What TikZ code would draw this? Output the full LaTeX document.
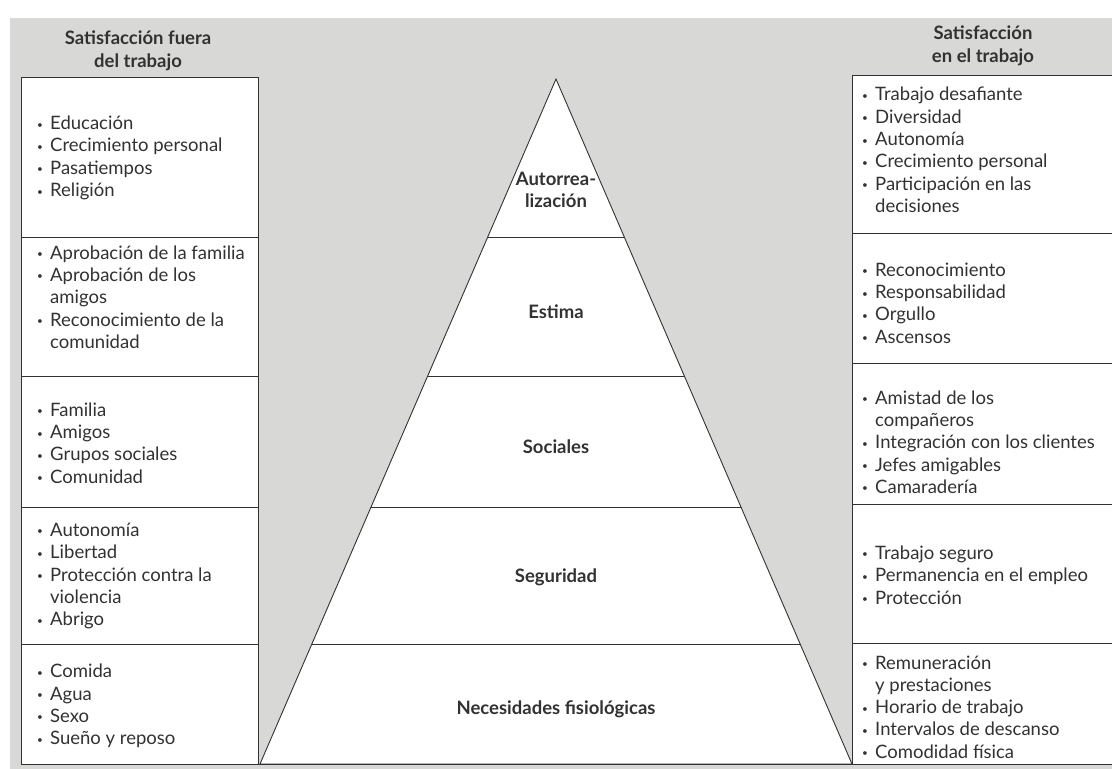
\documentclass[tikz,border=0pt]{standalone}
\usepackage{fontspec}
\setmainfont{Lato}
\definecolor{paper}{RGB}{216,216,214}
\definecolor{ink}{RGB}{50,50,50}
\newcommand{\itm}{\makebox[13pt][l]{\raisebox{1.5pt}{\fontsize{10}{10}\selectfont\textbullet}}}
\newcommand{\cont}{\makebox[13pt]{}}
\tikzset{
  cell/.style={draw=ink, fill=white, line width=0.9pt},
  lista/.style={anchor=west, align=left, font=\fontsize{18.5}{22.3}\selectfont, text=ink, inner sep=0pt},
  nivel/.style={align=center, font=\fontsize{18.5}{22.5}\selectfont\bfseries, text=ink, inner sep=0pt},
  titulo/.style={align=center, font=\fontsize{18.5}{22.5}\selectfont\bfseries, text=ink, inner sep=0pt}
}
\begin{document}
\begin{tikzpicture}[x=1pt, y=-1pt]
  \useasboundingbox (0,0) rectangle (1112,769);
  \fill[paper] (10,18) rectangle (1112,769);

  % columna izquierda
  \draw[cell] (21,77) rectangle (258,764);
  \foreach \y in {237,376,507,644}
    \draw[ink, line width=0.9pt] (21,\y) -- (258,\y);

  % columna derecha
  \draw[cell] (1113,75) -- (852,75) -- (852,764) -- (1113,764);
  \foreach \y in {233,363,504,643}
    \draw[ink, line width=0.9pt] (852,\y) -- (1113,\y);

  % piramide
  \coordinate (apex) at (556,79);
  \coordinate (bl) at (260,764);
  \coordinate (br) at (852,764);
  \draw[cell] (apex) -- (bl) -- (br) -- cycle;
  \begin{scope}
    \clip (apex) -- (bl) -- (br) -- cycle;
    \foreach \y in {237,376,507,644}
      \draw[ink, line width=0.9pt] (200,\y) -- (900,\y);
  \end{scope}
  \draw[ink, line width=0.9pt] (21,764) -- (1113,764);

  \node[titulo] (tfuera) at (138,51) {Satisfacción fuera\\del trabajo};
  \node[titulo] (ttrabajo) at (983,46) {Satisfacción\\en el trabajo};

  \node[nivel] (autorrea) at (556,190) {Autorrea-\\lización};
  \node[nivel] (estima) at (556,312) {Estima};
  \node[nivel] (sociales) at (556,447) {Sociales};
  \node[nivel] (seguridad) at (556,577) {Seguridad};
  \node[nivel] (fisio) at (556,709) {Necesidades fisiológicas};

  \node[lista] (f1) at (37,158) {\itm Educación\\\itm Crecimiento personal\\\itm Pasatiempos\\\itm Religión};
  \node[lista] (f2) at (37,297) {\itm Aprobación de la familia\\\itm Aprobación de los\\\cont amigos\\\itm Reconocimiento de la\\\cont comunidad};
  \node[lista] (f3) at (37,443) {\itm Familia\\\itm Amigos\\\itm Grupos sociales\\\itm Comunidad};
  \node[lista] (f4) at (37,576) {\itm Autonomía\\\itm Libertad\\\itm Protección contra la\\\cont violencia\\\itm Abrigo};
  \node[lista] (f5) at (37,706) {\itm Comida\\\itm Agua\\\itm Sexo\\\itm Sueño y reposo};

  \node[lista] (t1) at (862,150) {\itm Trabajo desafiante\\\itm Diversidad\\\itm Autonomía\\\itm Crecimiento personal\\\itm Participación en las\\\cont decisiones};
  \node[lista] (t2) at (862,303) {\itm Reconocimiento\\\itm Responsabilidad\\\itm Orgullo\\\itm Ascensos};
  \node[lista] (t3) at (862,442) {\itm Amistad de los\\\cont compañeros\\\itm Integración con los clientes\\\itm Jefes amigables\\\itm Camaradería};
  \node[lista] (t4) at (862,575) {\itm Trabajo seguro\\\itm Permanencia en el empleo\\\itm Protección};
  \node[lista] (t5) at (862,707) {\itm Remuneración\\\cont y prestaciones\\\itm Horario de trabajo\\\itm Intervalos de descanso\\\itm Comodidad física};
\end{tikzpicture}
\end{document}
